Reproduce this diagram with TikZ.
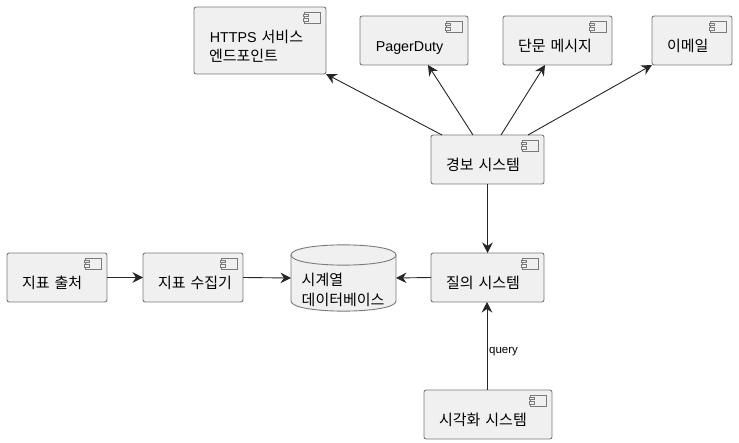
\documentclass[tikz,border=0pt]{standalone}
\usepackage{fontspec}
\setmainfont{Liberation Sans}
\newfontfamily\cjk{Noto Sans CJK KR}
\usetikzlibrary{arrows.meta}
\hbadness=10000 \hfuzz=50pt
\tikzset{
  x=1pt,y=-1pt,
  box/.style={draw=black!52,line width=0.9pt,fill=black!6,rounded corners=2.2pt,rectangle,
    anchor=north west,inner xsep=15pt,inner ysep=0pt,outer sep=0pt,align=left,
    font=\fontsize{15}{19}\selectfont\cjk},
  onebox/.style={box,text height=35.5pt,text depth=13.5pt},
  icon/.style={draw=black!52,line width=0.8pt,fill=black!6},
  flow/.style={draw=black!85,line width=0.9pt,-{Stealth[length=10.5pt,width=10.5pt,inset=3.5pt]}},
  dbtext/.style={font=\fontsize{15}{20}\selectfont\cjk,align=left,anchor=north west,inner sep=0pt},
  lbl/.style={font=\fontsize{11.5}{13}\selectfont,anchor=west,inner sep=0pt}
}
\newcommand{\latin}[1]{{\fontsize{14.3}{19}\fontspec{Liberation Sans}\kern0.8pt #1}}
\newcommand{\compicon}[1]{%
  \draw[icon] ([xshift=-21.5pt,yshift=-5pt]#1.north east) rectangle ([xshift=-6pt,yshift=-16pt]#1.north east);
  \draw[icon] ([xshift=-23pt,yshift=-7pt]#1.north east) rectangle ([xshift=-18pt,yshift=-9.5pt]#1.north east);
  \draw[icon] ([xshift=-23pt,yshift=-11.5pt]#1.north east) rectangle ([xshift=-18pt,yshift=-14pt]#1.north east);
}
\begin{document}
\begin{tikzpicture}
\useasboundingbox (0,0) rectangle (739,443);
\fill[white] (0,0) rectangle (739,443);
\node[box,text width=102pt,text height=36pt,text depth=31pt] (https) at (194,7) {\latin{HTTPS} 서비스\\엔드포인트};
\node[onebox,text width=78pt] (pager) at (360,16) {\latin{PagerDuty}};
\node[onebox,text width=79pt] (sms) at (503,16) {\mbox{단문 메시지}};
\node[onebox,text width=50pt] (mail) at (652,16) {\mbox{이메일}};
\node[onebox,text width=83pt] (alert) at (431,135) {\mbox{경보 시스템}};
\node[onebox,text width=83pt] (query) at (431,253) {\mbox{질의 시스템}};
\node[onebox,text width=98pt] (viz) at (424,390) {\mbox{시각화 시스템}};
\node[onebox,text width=70pt] (src) at (7,253) {\mbox{지표 출처}};
\node[onebox,text width=70pt] (coll) at (143,253) {\mbox{지표 수집기}};
\foreach \n in {https,pager,sms,mail,alert,query,viz,src,coll}{\compicon{\n}}
% database cylinder
\coordinate (dbw) at (291,278);
\coordinate (dbe) at (396,278);
\draw[draw=black!52,line width=0.9pt,fill=black!6]
  (291,255) .. controls (291,241.5) and (396,241.5) .. (396,255)
  -- (396,301) .. controls (396,314.5) and (291,314.5) .. (291,301) -- cycle;
\draw[draw=black!52,line width=0.9pt]
  (291,255) .. controls (291,268.5) and (396,268.5) .. (396,255);
\node[dbtext] (db) at (301.5,272.5) {\mbox{시계열}\\\mbox{데이터베이스}};
% connectors
\draw[flow] ([xshift=11pt]alert.north west) -- (https.south east);
\draw[flow] ([xshift=42pt]alert.north west) -- ([xshift=-40pt]pager.south east);
\draw[flow] ([xshift=70pt]alert.north west) -- ([xshift=-67pt]sms.south east);
\draw[flow] ([xshift=97pt]alert.north west) -- (mail.south west);
\draw[flow] (alert.south) -- (query.north);
\draw[flow] (query.west) -- (dbe);
\draw[flow] (src.east) -- (coll.west);
\draw[flow] (coll.east) -- (dbw);
\draw[flow] ([xshift=-1pt]viz.north) -- ([xshift=-0.5pt]query.south);
\coordinate (qlab) at (489,352);
\node[lbl] (qtext) at (qlab) {query};
\end{tikzpicture}
\end{document}
